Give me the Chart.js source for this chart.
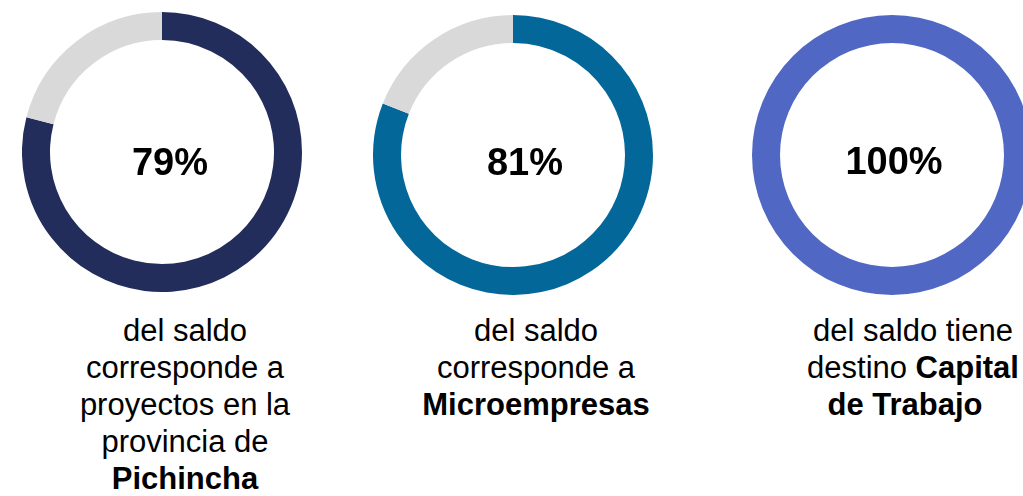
<!DOCTYPE html>
<html>
<head>
<meta charset="utf-8">
<script src="https://cdn.jsdelivr.net/npm/chart.js@4/dist/chart.umd.min.js"></script>
<style>
  html, body { margin: 0; padding: 0; background: #fff; }
  body { width: 1023px; height: 496px; position: relative; overflow: hidden;
         font-family: "Liberation Sans", Arial, sans-serif; color: #000; }
  .ring { position: absolute; width: 280px; height: 280px; }
  .pct { position: absolute; width: 200px; text-align: center; font-size: 38px;
         line-height: 38px; font-weight: bold; white-space: nowrap; }
  .caption { position: absolute; width: 260px; text-align: center; font-size: 31px;
             line-height: 37px; white-space: nowrap; }
</style>
</head>
<body>
<script>
// values shown in each ring (share of the total)
const shares = [79, 81, 100];
const ringColors = ["#222d5b", "#03679a", "#5068c3"];
const restColor = "#d9d9d9";
const captions = [
    "del saldo<br>corresponde a<br>proyectos en la<br>provincia de<br><b>Pichincha</b>",
    "del saldo<br>corresponde a<br><b>Microempresas</b>",
    "del saldo tiene<br>destino <b>Capital</b><br><b style=\"padding-right:16px\">de Trabajo</b>"
];

// layout of each column
const ringPos = [[22, 12], [373, 15], [752, 15]];
const pctPos = [[70, 143], [425, 143], [794, 142]];
const captionPos = [[55, 312], [406, 312], [783, 312]];

shares.forEach((value, i) => {
    const box = document.createElement("div");
    box.className = "ring";
    box.style.left = ringPos[i][0] + "px";
    box.style.top = ringPos[i][1] + "px";
    const canvas = document.createElement("canvas");
    box.appendChild(canvas);
    document.body.appendChild(box);

    new Chart(canvas, {
        type: "doughnut",
        data: {
            labels: ["share", "rest"],
            datasets: [{
                data: [value, 100 - value],
                backgroundColor: [ringColors[i], restColor],
                borderWidth: 0,
            }],
        },
        options: {
            responsive: true,
            maintainAspectRatio: false,
            animation: false,
            cutout: "80%",
            layout: { padding: 0 },
            plugins: {
                legend: { display: false },
                tooltip: { enabled: false },
            },
        },
    });

    const pct = document.createElement("div");
    pct.className = "pct";
    pct.style.left = pctPos[i][0] + "px";
    pct.style.top = pctPos[i][1] + "px";
    pct.textContent = value + "%";
    document.body.appendChild(pct);

    const cap = document.createElement("div");
    cap.className = "caption";
    cap.style.left = captionPos[i][0] + "px";
    cap.style.top = captionPos[i][1] + "px";
    cap.innerHTML = captions[i];
    document.body.appendChild(cap);
});
</script>
</body>
</html>
